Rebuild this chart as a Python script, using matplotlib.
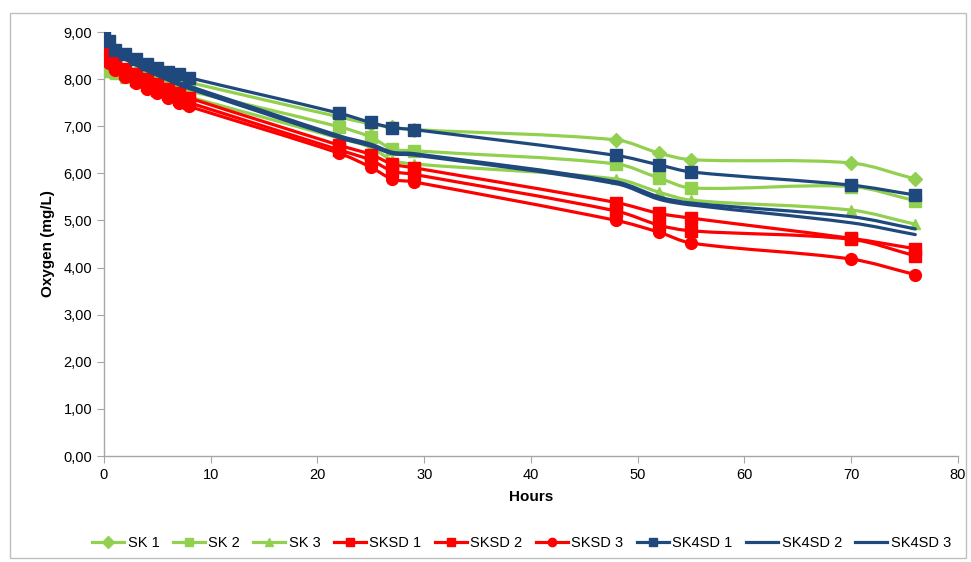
import matplotlib
matplotlib.use("Agg")
import matplotlib.pyplot as plt
import numpy as np
from matplotlib.path import Path
from matplotlib.patches import PathPatch, Rectangle
from matplotlib.lines import Line2D
from matplotlib.ticker import FuncFormatter

plt.rcParams['font.family'] = ['Liberation Sans', 'DejaVu Sans']

hours = [0, 0.5, 1, 2, 3, 4, 5, 6, 7, 8, 22, 25, 27, 29, 48, 52, 55, 70, 76]

sk1 = [8.55, 8.25, 8.20, 8.18, 8.15, 8.12, 8.10, 8.05, 8.00, 7.93,
       7.20, 7.05, 6.98, 6.93, 6.71, 6.43, 6.29, 6.22, 5.88]
sk2 = [8.45, 8.20, 8.15, 8.10, 8.02, 7.97, 7.92, 7.86, 7.80, 7.75,
       6.99, 6.77, 6.52, 6.48, 6.20, 5.90, 5.69, 5.72, 5.42]
sk3 = [8.35, 8.15, 8.10, 8.02, 7.93, 7.86, 7.80, 7.74, 7.68, 7.62,
       6.75, 6.55, 6.28, 6.20, 5.88, 5.60, 5.43, 5.22, 4.92]
sksd1 = [8.70, 8.50, 8.35, 8.22, 8.10, 8.00, 7.90, 7.80, 7.70, 7.60,
         6.60, 6.40, 6.20, 6.12, 5.38, 5.15, 5.05, 4.62, 4.40]
sksd2 = [8.65, 8.42, 8.28, 8.12, 7.98, 7.88, 7.78, 7.68, 7.58, 7.50,
         6.50, 6.28, 6.05, 5.98, 5.20, 4.90, 4.78, 4.60, 4.25]
sksd3 = [8.60, 8.35, 8.20, 8.05, 7.92, 7.80, 7.70, 7.60, 7.50, 7.42,
         6.43, 6.13, 5.88, 5.82, 5.00, 4.75, 4.52, 4.18, 3.85]
sk4sd1 = [8.92, 8.80, 8.62, 8.53, 8.43, 8.32, 8.24, 8.15, 8.10, 8.03,
          7.28, 7.08, 6.97, 6.93, 6.38, 6.18, 6.03, 5.75, 5.54]
sk4sd2 = [8.90, 8.75, 8.58, 8.45, 8.33, 8.22, 8.12, 8.02, 7.93, 7.85,
          6.80, 6.62, 6.45, 6.42, 5.82, 5.50, 5.37, 5.08, 4.82]
sk4sd3 = [8.88, 8.72, 8.55, 8.42, 8.30, 8.18, 8.08, 7.98, 7.88, 7.80,
          6.76, 6.58, 6.42, 6.39, 5.78, 5.45, 5.33, 4.95, 4.70]

GREEN = '#92D050'
RED = '#FF0000'
BLUE = '#1F497D'

series = [
    ('SK 1', sk1, GREEN, 'D', 7),
    ('SK 2', sk2, GREEN, 's', 8),
    ('SK 3', sk3, GREEN, '^', 7),
    ('SKSD 1', sksd1, RED, 's', 9),
    ('SKSD 2', sksd2, RED, 's', 9),
    ('SKSD 3', sksd3, RED, 'o', 8.5),
    ('SK4SD 1', sk4sd1, BLUE, 's', 9),
    ('SK4SD 2', sk4sd2, BLUE, None, 0),
    ('SK4SD 3', sk4sd3, BLUE, None, 0),
]


def smooth_path(x, y):
    # cubic hermite through the points, written as bezier segments
    x = np.asarray(x, float)
    y = np.asarray(y, float)
    n = len(x)
    m = np.zeros(n)
    m[0] = (y[1] - y[0]) / (x[1] - x[0])
    m[-1] = (y[-1] - y[-2]) / (x[-1] - x[-2])
    for i in range(1, n - 1):
        m[i] = (y[i + 1] - y[i - 1]) / (x[i + 1] - x[i - 1])
    verts = [(x[0], y[0])]
    codes = [Path.MOVETO]
    for i in range(n - 1):
        h = x[i + 1] - x[i]
        verts += [(x[i] + h / 3, y[i] + m[i] * h / 3),
                  (x[i + 1] - h / 3, y[i + 1] - m[i + 1] * h / 3),
                  (x[i + 1], y[i + 1])]
        codes += [Path.CURVE4] * 3
    return Path(verts, codes)


fig = plt.figure(figsize=(9.71, 5.62), dpi=100)
ax = fig.add_axes([0.107, 0.1886, 0.8796, 0.7544])

handles = []
for k, (name, vals, col, mk, ms) in enumerate(series):
    z = 3 + k
    ax.add_patch(PathPatch(smooth_path(hours, vals), fill=False,
                           edgecolor=col, lw=2.3, zorder=z,
                           capstyle='round', joinstyle='round'))
    if mk:
        ax.plot(hours, vals, linestyle='none', marker=mk, ms=ms,
                color=col, mec=col, zorder=z)
    handles.append(Line2D([], [], color=col, lw=2.3, marker=mk,
                          ms=6 if mk else 0, label=name))

ax.set_xlim(0, 80)
ax.set_ylim(0, 9)
ax.set_xticks(range(0, 81, 10))
ax.set_yticks(range(0, 10))
ax.yaxis.set_major_formatter(FuncFormatter(lambda v, p: f'{v:.2f}'.replace('.', ',')))

for s in ['top', 'right']:
    ax.spines[s].set_visible(False)
for s in ['left', 'bottom']:
    ax.spines[s].set_color('#A6A6A6')
    ax.spines[s].set_linewidth(1)
ax.tick_params(direction='out', length=5, color='#A6A6A6',
               labelsize=10.5, labelcolor='#000000')

ax.set_xlabel('Hours', fontsize=11, fontweight='bold', labelpad=6)
ax.set_ylabel('Oxygen (mg/L)', fontsize=11, fontweight='bold', labelpad=6)

fig.legend(handles=handles, loc='center', bbox_to_anchor=(0.537, 0.033),
           ncol=9, frameon=False, fontsize=10.5, handlelength=2.2,
           handletextpad=0.25, columnspacing=0.9)

fig.add_artist(Rectangle((0.01, 0.008), 0.985, 0.969, transform=fig.transFigure,
                         fill=False, edgecolor='#BFBFBF', lw=1))

fig.savefig('out.png', dpi=100)
